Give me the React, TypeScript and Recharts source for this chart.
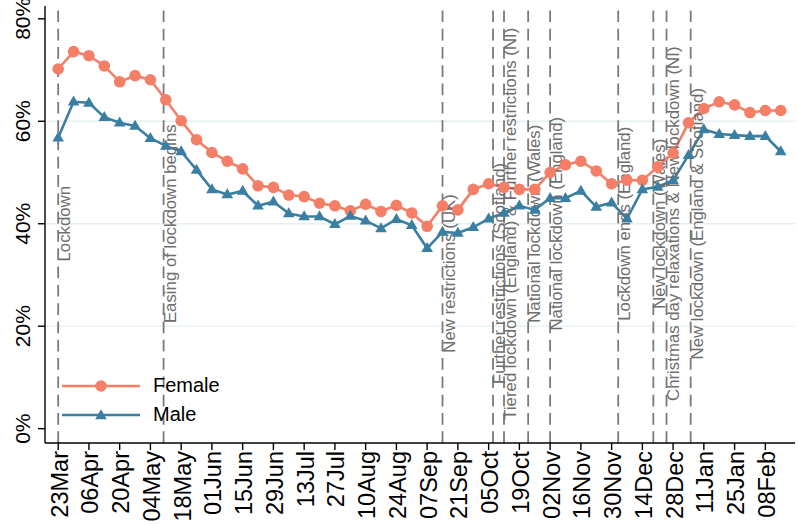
import React from 'react';
import { ComposedChart, Line, XAxis, YAxis, ReferenceLine, ReferenceDot, Legend } from 'recharts';

// ---------- data ----------
const weekDates = [
  '2020-03-23', '2020-03-30', '2020-04-06', '2020-04-13', '2020-04-20', '2020-04-27', '2020-05-04', '2020-05-11',
  '2020-05-18', '2020-05-25', '2020-06-01', '2020-06-08', '2020-06-15', '2020-06-22', '2020-06-29', '2020-07-06',
  '2020-07-13', '2020-07-20', '2020-07-27', '2020-08-03', '2020-08-10', '2020-08-17', '2020-08-24', '2020-08-31',
  '2020-09-07', '2020-09-14', '2020-09-21', '2020-09-28', '2020-10-05', '2020-10-12', '2020-10-19', '2020-10-26',
  '2020-11-02', '2020-11-09', '2020-11-16', '2020-11-23', '2020-11-30', '2020-12-07', '2020-12-14', '2020-12-21',
  '2020-12-28', '2021-01-04', '2021-01-11', '2021-01-18', '2021-01-25', '2021-02-01', '2021-02-08', '2021-02-15',
];

const femaleValues = [
  70.2, 73.6, 72.8, 70.8, 67.7, 68.9, 68.1, 64.2, 60.1, 56.4,
  53.9, 52.2, 50.7, 47.4, 47.1, 45.6, 45.3, 44.0, 43.5, 42.5,
  43.8, 42.4, 43.6, 42.1, 39.5, 43.5, 42.7, 46.7, 47.8, 47.1,
  46.7, 46.7, 50.0, 51.5, 52.2, 50.3, 47.8, 48.5, 48.5, 51.1,
  53.8, 59.7, 62.5, 63.8, 63.2, 61.7, 62.1, 62.1,
];

const maleValues = [
  56.8, 63.8, 63.6, 60.8, 59.7, 59.1, 56.7, 55.2, 54.1, 50.5,
  46.7, 45.7, 46.4, 43.5, 44.3, 42.0, 41.4, 41.4, 39.9, 41.5,
  40.6, 39.1, 40.9, 39.7, 35.2, 38.4, 38.2, 39.3, 41.0, 42.1,
  43.5, 42.7, 45.0, 45.0, 46.4, 43.3, 44.1, 41.0, 46.7, 47.2,
  48.5, 53.4, 58.4, 57.5, 57.3, 57.1, 57.1, 54.1,
];

const tickDates = [
  '2020-03-23', '2020-04-06', '2020-04-20', '2020-05-04', '2020-05-18', '2020-06-01', '2020-06-15', '2020-06-29',
  '2020-07-13', '2020-07-27', '2020-08-10', '2020-08-24', '2020-09-07', '2020-09-21', '2020-10-05', '2020-10-19',
  '2020-11-02', '2020-11-16', '2020-11-30', '2020-12-14', '2020-12-28', '2021-01-11', '2021-01-25', '2021-02-08',
];
const tickLabels = [
  '23Mar', '06Apr', '20Apr', '04May', '18May', '01Jun', '15Jun', '29Jun', '13Jul', '27Jul', '10Aug', '24Aug',
  '07Sep', '21Sep', '05Oct', '19Oct', '02Nov', '16Nov', '30Nov', '14Dec', '28Dec', '11Jan', '25Jan', '08Feb',
];

const eventDates = [
  '2020-03-23', '2020-05-10', '2020-09-14', '2020-10-07', '2020-10-12', '2020-10-23',
  '2020-11-02', '2020-12-03', '2020-12-19', '2020-12-25', '2021-01-05',
];
const eventLabels = [
  'Lockdown',
  'Easing of lockdown begins',
  'New restrictions (UK)',
  'Further restrictions (Scotland)',
  'Tiered lockdown (England) & Further restrictions (NI)',
  'National lockdown (Wales)',
  'National lockdown (England)',
  'Lockdown ends (England)',
  'New lockdown (Wales)',
  'Christmas day relaxations & New lockdown (NI)',
  'New lockdown (England & Scotland)',
];
const eventLabelLevels = [40, 40, 30.3, 30.3, 40, 40, 40, 40, 40, 40, 40];

const yTicks = [0, 20, 40, 60, 80];
const gridLevels = [20, 40, 60];

// ---------- helpers ----------
const ORIGIN = Date.parse('2020-03-23');
const dayOf = (iso: string) => Math.round((Date.parse(iso) - ORIGIN) / 86400000);

const data = weekDates.map((d, i) => ({ day: dayOf(d), female: femaleValues[i], male: maleValues[i] }));
const tickDays = tickDates.map(dayOf);
const eventDays = eventDates.map(dayOf);

const FONT = '"Liberation Sans", Arial, Helvetica, sans-serif';
const FEMALE = '#F47E66';
const MALE = '#3A7EA1';
const EVENT = '#7A7A7A';

const XTick = (props: any) => {
  const { x, y, payload } = props;
  const idx = tickDays.indexOf(payload.value);
  return (
    <text transform={`translate(${x + 9.5}, ${y}) rotate(-90)`} textAnchor="end" fontSize={23.5} fontFamily={FONT} fill="#000">
      {idx >= 0 ? tickLabels[idx] : ''}
    </text>
  );
};

const YTick = (props: any) => {
  const { x, y, payload } = props;
  return (
    <text transform={`translate(${x}, ${y}) rotate(-90)`} textAnchor="middle" fontSize={21} fontFamily={FONT} fill="#000">
      {`${payload.value}%`}
    </text>
  );
};

const circleDot = (props: any) => {
  const { cx, cy, index } = props;
  if (cx == null || cy == null) return <g key={`f${index}`} />;
  return <circle key={`f${index}`} cx={cx} cy={cy} r={5.8} fill={FEMALE} stroke="none" />;
};

const triPoints = (cx: number, cy: number, s: number) =>
  `${cx},${cy - s * 0.62} ${cx - s * 0.58},${cy + s * 0.38} ${cx + s * 0.58},${cy + s * 0.38}`;

const triangleDot = (props: any) => {
  const { cx, cy, index } = props;
  if (cx == null || cy == null) return <g key={`m${index}`} />;
  return <polygon key={`m${index}`} points={triPoints(cx, cy, 10)} fill={MALE} stroke="none" />;
};

const makeEventLabel = (text: string) => (props: any) => {
  const { cx, cy } = props;
  return (
    <text transform={`translate(${cx + 12}, ${cy}) rotate(-90)`} textAnchor="middle" fontSize={16.8} fontFamily={FONT} fill="#6E6E6E">
      {text}
    </text>
  );
};

const LegendContent = () => {
  const rows = [
    { name: 'Female', color: FEMALE, shape: 'circle' },
    { name: 'Male', color: MALE, shape: 'triangle' },
  ];
  return (
    <div style={{ fontFamily: FONT }}>
      {rows.map((r) => (
        <div key={r.name} style={{ display: 'flex', alignItems: 'center', height: 29 }}>
          <svg width={90} height={20} style={{ display: 'block' }}>
            <line x1={6} y1={10} x2={84} y2={10} stroke={r.color} strokeWidth={2.6} />
            {r.shape === 'circle' ? (
              <circle cx={45} cy={10} r={5.8} fill={r.color} />
            ) : (
              <polygon points={triPoints(45, 10.5, 10)} fill={r.color} />
            )}
          </svg>
          <span style={{ marginLeft: 7, fontSize: 20, color: '#000', lineHeight: '29px' }}>{r.name}</span>
        </div>
      ))}
    </div>
  );
};

export default function App() {
  return (
    <div style={{ position: 'absolute', left: 0, top: 0, width: 798, height: 525, background: '#fff' }}>
      <ComposedChart width={798} height={525} data={data} margin={{ top: 6, right: 3, bottom: 0, left: 0 }}>
        <XAxis
          dataKey="day"
          type="number"
          domain={[-6, 335.5]}
          ticks={tickDays}
          interval={0}
          height={82}
          tickSize={7}
          tickMargin={1}
          axisLine={{ stroke: '#000', strokeWidth: 1.4 }}
          tickLine={{ stroke: '#000', strokeWidth: 1.4 }}
          tick={<XTick />}
          allowDataOverflow
        />
        <YAxis
          type="number"
          domain={[-2.8, 82.5]}
          ticks={yTicks}
          interval={0}
          width={45}
          tickSize={7}
          tickMargin={8}
          axisLine={{ stroke: '#000', strokeWidth: 1.4 }}
          tickLine={{ stroke: '#000', strokeWidth: 1.4 }}
          tick={<YTick />}
          allowDataOverflow
        />
        {gridLevels.map((g) => (
          <ReferenceLine key={`g${g}`} y={g} stroke="#E6EFF1" strokeWidth={1.3} />
        ))}
        {eventDays.map((d, i) => (
          <ReferenceLine key={`e${i}`} x={d} stroke={EVENT} strokeWidth={1.8} strokeDasharray="11.7 6.6" />
        ))}
        {eventDays.map((d, i) => (
          <ReferenceDot key={`l${i}`} x={d} y={eventLabelLevels[i]} r={0} shape={makeEventLabel(eventLabels[i])} />
        ))}
        <Line
          dataKey="female"
          name="Female"
          type="linear"
          stroke={FEMALE}
          strokeWidth={2.6}
          dot={circleDot}
          activeDot={false}
          isAnimationActive={false}
        />
        <Line
          dataKey="male"
          name="Male"
          type="linear"
          stroke={MALE}
          strokeWidth={2.6}
          dot={triangleDot}
          activeDot={false}
          isAnimationActive={false}
        />
        <Legend
          layout="vertical"
          align="center"
          verticalAlign="middle"
          content={<LegendContent />}
          wrapperStyle={{ left: 56, top: 371, width: 'auto', height: 'auto' }}
        />
      </ComposedChart>
    </div>
  );
}
